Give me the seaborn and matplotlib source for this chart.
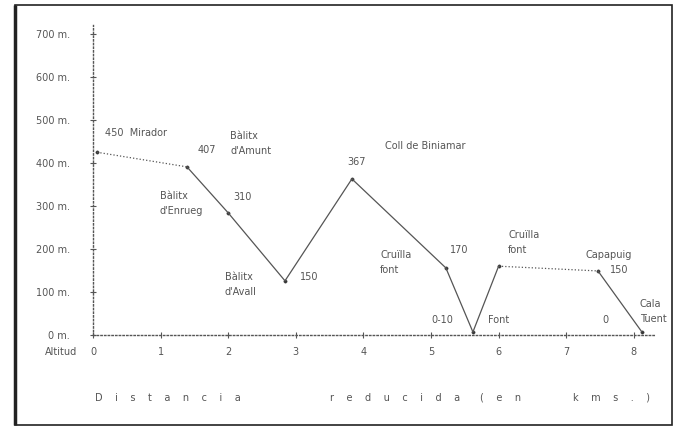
import pandas as pd
import numpy as np
import matplotlib.pyplot as plt
import seaborn as sns
from matplotlib.patches import Rectangle

# Perfil: distancia (km) i altitud (m) de cada punt
dist = [0.06, 1.39, 2.0, 2.84, 3.83, 5.22, 5.62, 6.0, 7.47, 8.12]
alt = [425, 391, 284, 126, 363, 156, 7, 160, 149, 7]
# estil de cada tram
trams = [':', '-', '-', '-', '-', '-', '-', ':', '-']

yticks = [0, 100, 200, 300, 400, 500, 600, 700]
ytick_labels = ['0 m.', '100 m.', '200 m.', '300 m.', '400 m.', '500 m.', '600 m.', '700 m.']
xticks = [0, 1, 2, 3, 4, 5, 6, 7, 8]
paraules_eix = ['Distancia', 'reducida', '(en', 'kms.)']

# etiquetes: (text, x, y)
etiquetes = [
    ('450  Mirador', 0.18, 470),
    ('407', 1.54, 430),
    ('Bàlitx\nd\'Amunt', 2.03, 445),
    ('Bàlitx\nd\'Enrueg', 0.99, 305),
    ('310', 2.07, 321),
    ('Bàlitx\nd\'Avall', 1.95, 117),
    ('150', 3.06, 135),
    ('367', 3.76, 402),
    ('Coll de Biniamar', 4.32, 440),
    ('Cruïlla\nfont', 4.25, 168),
    ('170', 5.28, 198),
    ('0-10', 5.01, 35),
    ('Font', 5.84, 35),
    ('Cruïlla\nfont', 6.14, 215),
    ('Capapuig', 7.28, 186),
    ('150', 7.65, 151),
    ('0', 7.54, 35),
    ('Cala\nTuent', 8.09, 54),
]

sns.set_style("white")
plt.rcParams['font.family'] = ['DejaVu Sans']
gris = '#555555'

df = pd.DataFrame({'dist': dist, 'alt': alt})

fig = plt.figure(figsize=(6.81, 4.30), dpi=100)
ax = fig.add_axes([93 / 681, 95 / 430, 8.3 * 67.6 / 681, 720 * 0.43 / 430])

for i, st in enumerate(trams):
    sns.lineplot(data=df.iloc[i:i + 2], x='dist', y='alt', ax=ax, color=gris,
                 linestyle=st, linewidth=0.9, sort=False)
sns.scatterplot(data=df, x='dist', y='alt', ax=ax, color='#333333', s=6, edgecolor=None)

for txt, x, y in etiquetes:
    ax.text(x, y, txt, fontsize=7, color=gris, va='center', ha='left', linespacing=1.6)

ax.set_xlim(0, 8.3)
ax.set_ylim(0, 720)
ax.set_yticks(yticks)
ax.set_yticklabels(ytick_labels)
ax.set_xticks(xticks)
ax.tick_params(axis='both', direction='inout', length=5, width=0.8, colors=gris,
               labelsize=7, labelcolor=gris, left=True, bottom=True)
ax.tick_params(axis='y', pad=14)
ax.tick_params(axis='x', pad=6)
for s in ['top', 'right']:
    ax.spines[s].set_visible(False)
for s in ['left', 'bottom']:
    ax.spines[s].set_linestyle(':')
    ax.spines[s].set_color(gris)
    ax.spines[s].set_linewidth(1.0)
ax.set_xlabel('')
ax.set_ylabel('')

# títol de l'eix x, lletres espaiades
inici_px = [95, 330, 480, 573]
for paraula, px in zip(paraules_eix, inici_px):
    fig.text(px / 681, 1 - 398 / 430, (' ' * 4).join(paraula), fontsize=7,
             color=gris, va='center', ha='left')

fig.text(45 / 681, 1 - 352 / 430, 'Altitud', fontsize=7, color=gris, va='center')

# marc de la figura
fig.patches.append(Rectangle((15 / 681, 5 / 430), 657 / 681, 420 / 430,
                             transform=fig.transFigure, fill=False,
                             edgecolor='#222222', linewidth=1.2))
fig.patches.append(Rectangle((15 / 681, 5 / 430), 0, 420 / 430,
                             transform=fig.transFigure, fill=False,
                             edgecolor='#222222', linewidth=2.5))

fig.savefig('out.png', dpi=100)
